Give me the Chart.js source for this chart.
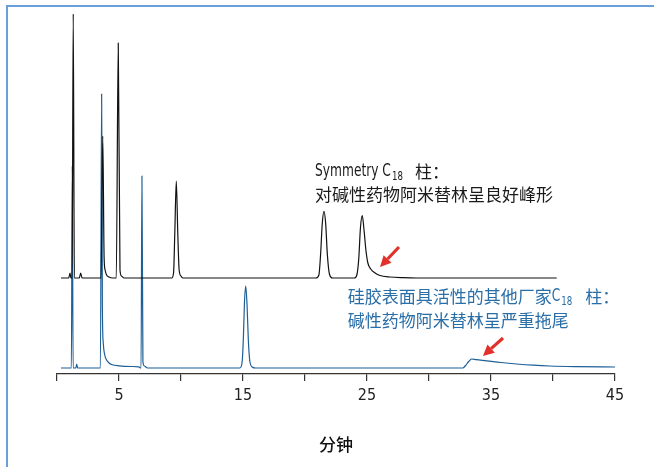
<!DOCTYPE html>
<html lang="zh-CN">
<head>
<meta charset="utf-8">
<title>阿米替林色谱图</title>
<script src="https://cdn.jsdelivr.net/npm/chart.js@4.4.1/dist/chart.umd.min.js"></script>
<style>
  html, body { margin: 0; padding: 0; background: #ffffff; }
  canvas { display: block; }
</style>
</head>
<body>
<canvas id="chart" width="654" height="467"></canvas>
<script>
// Retention time (min) and detector response for the Symmetry C18 run (upper trace)
const blackTime = [
  0.32, 0.95, 1.05, 1.12, 1.22, 1.31, 1.40, 1.80, 1.91, 2.02,
  3.55, 3.69, 3.80, 3.88, 4.00, 4.20, 4.45,
  4.78, 4.94, 5.08, 5.20, 5.40,
  9.25, 9.40, 9.50, 9.62, 9.74, 9.85, 10.00, 10.15,
  20.88, 21.12, 21.26, 21.39, 21.53, 21.67, 21.80, 21.97, 22.22,
  23.98, 24.18, 24.34, 24.47, 24.62, 24.76, 24.92, 25.07, 25.30, 25.65, 26.05, 26.85, 27.90, 29.00,
  40.30
];
const blackSignal = [
  0, 0, 5, 0, 0, 264, 0, 0, 5, 0,
  0, 142, 20, 8, 3, 1, 0,
  0, 235, 8, 2, 0,
  0, 5, 45, 97, 45, 8, 2, 0,
  0, 3, 24, 54, 66.6, 54, 24, 4, 0,
  0, 3, 20, 50, 62.3, 48, 27, 15, 9, 5, 2.5, 1, 0.3, 0,
  0
];

// Retention time (min) and detector response for the other vendor's C18 run (lower trace)
const blueTime = [
  0.32, 1.16, 1.23, 1.30, 1.52, 1.59, 1.66,
  3.50, 3.60, 3.66, 3.73, 3.85, 4.00, 4.20, 4.41, 5.00, 6.00, 6.60, 6.72,
  6.78, 6.85, 6.93, 7.05, 7.30,
  14.75, 14.93, 15.03, 15.12, 15.22, 15.33, 15.43, 15.55, 15.75, 16.00,
  32.72, 32.95, 33.20, 33.44, 33.80, 34.65, 35.80, 37.07, 38.40, 39.76, 42.00, 45.00
];
const blueSignal = [
  0, 0, 202, 0, 0, 4, 0,
  0, 274, 60, 25, 13, 8, 5, 3.5, 2.2, 1.5, 1.2, 0,
  0, 192, 6, 2, 0,
  0, 6, 30, 66, 82, 62, 28, 7, 1, 0,
  0, 2.5, 6.5, 9, 8.3, 7.2, 5.5, 4, 2.8, 2, 1.4, 1
];

// The upper trace is lifted above the lower one by this many response units
const blackOffset = 90;

// Axis ticks: every 5 min, labels on the odd multiples
const tickStep = 5;
const labeledTicks = [5, 15, 25, 35, 45];
const axisTitle = '分钟';

// Annotation texts
const noteSymmetry = ['Symmetry C', '18', '柱：', '对碱性药物阿米替林呈良好峰形'];
const noteOther = ['硅胶表面具活性的其他厂家', 'C', '18', '柱：', '碱性药物阿米替林呈严重拖尾'];

const CJK = '"Noto Sans CJK SC", "Noto Sans", sans-serif';
const LATIN = '"DejaVu Sans Condensed", "Liberation Sans Narrow", "Noto Sans", sans-serif';
const LATIN_SQUEEZE = 0.8; // horizontal squeeze for latin annotation text

const blackPoints = blackTime.map((t, i) => ({ x: t, y: blackSignal[i] + blackOffset }));
const bluePoints = blueTime.map((t, i) => ({ x: t, y: blueSignal[i] }));

// Layout of the annotations, in data coordinates (min, response units)
const notes = {
  symmetry: { x: 20.81, y1: 196, y2: 173, color: '#1a1a1a' },
  other:    { x: 23.44, y1: 71,  y2: 47,  color: '#2a6ea8' },
  arrows: [
    { from: [27.58, 121], to: [26.05, 101] },
    { from: [35.97, 30],  to: [34.35, 12] }
  ]
};

// latin text drawn slightly condensed; returns advance width
function latinText(ctx, text, x, y, size) {
  ctx.font = size + 'px ' + LATIN;
  const w = ctx.measureText(text).width * LATIN_SQUEEZE;
  ctx.save();
  ctx.translate(x, y);
  ctx.scale(LATIN_SQUEEZE, 1);
  ctx.fillText(text, 0, 0);
  ctx.restore();
  return w;
}

function cjkText(ctx, text, x, y) {
  ctx.font = '17px ' + CJK;
  ctx.fillText(text, x, y);
  return ctx.measureText(text).width;
}

function drawNotes(ctx, xs, ys) {
  ctx.textBaseline = 'middle';
  ctx.textAlign = 'left';

  const s = notes.symmetry;
  let x = xs.getPixelForValue(s.x);
  let y = ys.getPixelForValue(s.y1);
  ctx.fillStyle = s.color;
  x += latinText(ctx, noteSymmetry[0], x, y, 17);
  x += latinText(ctx, noteSymmetry[1], x + 1, y + 5, 12) + 13;
  cjkText(ctx, noteSymmetry[2], x, y);
  cjkText(ctx, noteSymmetry[3], xs.getPixelForValue(s.x), ys.getPixelForValue(s.y2));

  const o = notes.other;
  x = xs.getPixelForValue(o.x);
  y = ys.getPixelForValue(o.y1);
  ctx.fillStyle = o.color;
  x += cjkText(ctx, noteOther[0], x, y);
  x += latinText(ctx, noteOther[1], x, y, 17);
  x += latinText(ctx, noteOther[2], x + 1, y + 5, 12) + 14;
  cjkText(ctx, noteOther[3], x, y);
  cjkText(ctx, noteOther[4], xs.getPixelForValue(o.x), ys.getPixelForValue(o.y2));
}

function drawArrow(ctx, x1, y1, x2, y2) {
  const ang = Math.atan2(y2 - y1, x2 - x1);
  const head = 11, half = 5.5;
  const bx = x2 - head * Math.cos(ang), by = y2 - head * Math.sin(ang);
  ctx.strokeStyle = '#e2312b';
  ctx.fillStyle = '#e2312b';
  ctx.lineWidth = 3.2;
  ctx.lineCap = 'butt';
  ctx.beginPath();
  ctx.moveTo(x1, y1);
  ctx.lineTo(bx, by);
  ctx.stroke();
  ctx.beginPath();
  ctx.moveTo(x2, y2);
  ctx.lineTo(bx + half * Math.sin(ang), by - half * Math.cos(ang));
  ctx.lineTo(bx - half * Math.sin(ang), by + half * Math.cos(ang));
  ctx.closePath();
  ctx.fill();
}

const decorations = {
  id: 'decorations',
  beforeDraw(chart) {
    const ctx = chart.ctx;
    ctx.save();
    ctx.fillStyle = '#ffffff';
    ctx.fillRect(0, 0, chart.width, chart.height);
    // panel frame (top and left edges)
    ctx.strokeStyle = '#6b9fd9';
    ctx.lineWidth = 2;
    ctx.beginPath();
    ctx.moveTo(7, chart.height);
    ctx.lineTo(7, 6);
    ctx.lineTo(chart.width, 6);
    ctx.stroke();
    ctx.restore();
  },
  afterDraw(chart) {
    const ctx = chart.ctx;
    const xs = chart.scales.x, ys = chart.scales.y;
    ctx.save();
    drawNotes(ctx, xs, ys);
    notes.arrows.forEach(a => {
      drawArrow(ctx,
        xs.getPixelForValue(a.from[0]), ys.getPixelForValue(a.from[1]),
        xs.getPixelForValue(a.to[0]), ys.getPixelForValue(a.to[1]));
    });
    ctx.restore();
  }
};

new Chart(document.getElementById('chart'), {
  type: 'line',
  data: {
    datasets: [
      {
        label: 'Symmetry C18',
        data: blackPoints,
        borderColor: '#111111',
        borderWidth: 1.2,
        pointRadius: 0,
        fill: false,
        cubicInterpolationMode: 'monotone'
      },
      {
        label: '其他厂家C18',
        data: bluePoints,
        borderColor: '#1d5f97',
        borderWidth: 1.2,
        pointRadius: 0,
        fill: false,
        cubicInterpolationMode: 'monotone'
      }
    ]
  },
  options: {
    responsive: false,
    animation: false,
    devicePixelRatio: 1,
    layout: { padding: { left: 57, right: 39, top: 0, bottom: 0 } },
    plugins: {
      legend: { display: false },
      tooltip: { enabled: false }
    },
    scales: {
      x: {
        type: 'linear',
        min: 0,
        max: 45,
        afterFit(scale) { scale.height = 93; },
        border: { display: true, color: '#333333', width: 1.2 },
        grid: {
          display: true,
          drawOnChartArea: false,
          drawTicks: true,
          tickLength: 7,
          color: '#333333',
          lineWidth: 1.2
        },
        ticks: {
          stepSize: tickStep,
          autoSkip: false,
          maxRotation: 0,
          padding: 5,
          color: '#222222',
          font: { family: LATIN, size: 16 },
          callback: (v) => labeledTicks.includes(v) ? String(v) : ''
        },
        title: {
          display: true,
          text: axisTitle,
          color: '#111111',
          font: { family: CJK, size: 17, weight: '500' },
          padding: { top: 0, bottom: 12 }
        }
      },
      y: {
        display: false,
        min: -6,
        max: 368
      }
    }
  },
  plugins: [decorations]
});
</script>
</body>
</html>
